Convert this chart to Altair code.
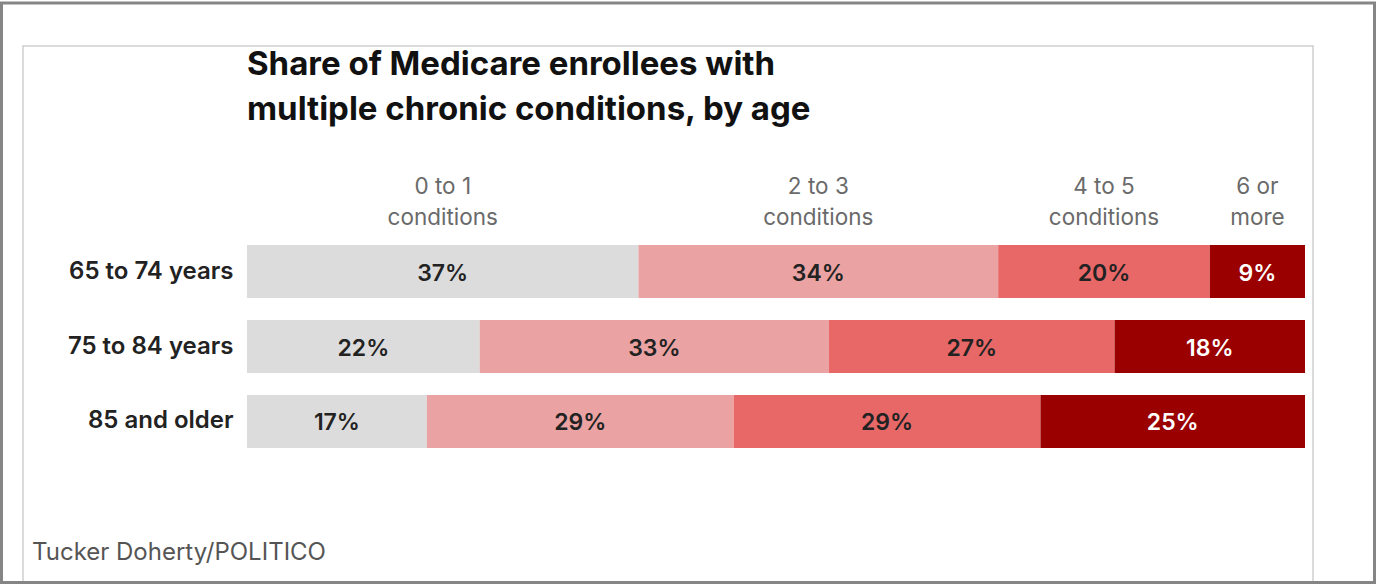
import altair as alt
import pandas as pd

# Source values (percent of enrollees in each age group)
ages = ["65 to 74 years", "75 to 84 years", "85 and older"]
groups = ["0 to 1\nconditions", "2 to 3\nconditions", "4 to 5\nconditions", "6 or\nmore"]
shares_65_74 = [37, 34, 20, 9]
shares_75_84 = [22, 33, 27, 18]
shares_85_up = [17, 29, 29, 25]

title_lines = "Share of Medicare enrollees with\nmultiple chronic conditions, by age"
credit_text = "Tucker Doherty/POLITICO"

colors = ["#dcdcdc", "#eba2a2", "#e86868", "#9b0000"]
label_colors = ["#222222", "#222222", "#222222", "#ffffff"]

FONT = "Inter"

rows = []
for age, shares in zip(ages, [shares_65_74, shares_75_84, shares_85_up]):
    start = 0
    for i, (grp, val) in enumerate(zip(groups, shares)):
        rows.append({
            "age": age, "group": grp, "order": i, "value": val,
            "start": start, "end": start + val, "mid": start + val / 2,
            "label": f"{val}%", "label_color": label_colors[i],
        })
        start += val
df = pd.DataFrame(rows)
header_df = df[df["age"] == ages[0]]

y_enc = alt.Y(
    "age:N",
    sort=ages,
    scale=alt.Scale(domain=ages, paddingInner=0.2933, paddingOuter=0.1467),
    axis=alt.Axis(
        title=None, domain=False, ticks=False, labelPadding=14,
        labelFontSize=24, labelColor="#222222", labelFont=FONT,
        labelFontWeight=600,
    ),
)
x_scale = alt.Scale(domain=[0, 100], nice=False, zero=True)

bars = alt.Chart(df).mark_bar(cornerRadius=0).encode(
    x=alt.X("start:Q", scale=x_scale, axis=None),
    x2="end:Q",
    y=y_enc,
    color=alt.Color("group:N", scale=alt.Scale(domain=groups, range=colors), legend=None),
)

values = alt.Chart(df).mark_text(
    font=FONT, fontSize=23, fontWeight=600, baseline="middle", dy=2
).encode(
    x=alt.X("mid:Q", scale=x_scale, axis=None),
    y=y_enc,
    text="label:N",
    color=alt.Color("label_color:N", scale=None),
)

headers = alt.Chart(header_df).mark_text(
    font=FONT, fontSize=22.5, fontWeight=400, color="#6a6a6a", baseline="alphabetic",
    lineBreak="\n", lineHeight=31, align="center",
).encode(
    x=alt.X("mid:Q", scale=x_scale, axis=None),
    y=alt.value(-40),
    text="group:N",
)

title = alt.Chart(pd.DataFrame({"t": [title_lines]})).mark_text(
    font=FONT, fontSize=33, fontWeight="bold", color="#111111", align="left",
    baseline="alphabetic", lineBreak="\n", lineHeight=45,
).encode(x=alt.value(0), y=alt.value(-159), text="t:N")

credit = alt.Chart(pd.DataFrame({"t": [credit_text]})).mark_text(
    font=FONT, fontSize=24, color="#555555", align="left", baseline="alphabetic",
).encode(x=alt.value(-215), y=alt.value(326), text="t:N")

frame_df = pd.DataFrame({"k": [0]})
outer = alt.Chart(frame_df).mark_rect(
    fillOpacity=0, stroke="#858585", strokeWidth=3
).encode(
    x=alt.value(-245.5), x2=alt.value(1127.5), y=alt.value(-231), y2=alt.value(348.5)
)
panel = alt.Chart(frame_df).mark_rect(
    fillOpacity=0, stroke="#cfcfcf", strokeWidth=1.5
).encode(
    x=alt.value(-224), x2=alt.value(1066), y=alt.value(-188), y2=alt.value(400)
)

chart = alt.layer(panel, outer, bars, values, headers, title, credit).properties(
    width=1058,
    height=225,
    autosize=alt.AutoSizeParams(type="none"),
    padding={"left": 247, "top": 234, "right": 71, "bottom": 125},
).configure(
    background="#ffffff",
    view=alt.ViewConfig(stroke="transparent", strokeWidth=0),
)

chart.save("out.html", embed_options={"renderer": "svg", "actions": False})
